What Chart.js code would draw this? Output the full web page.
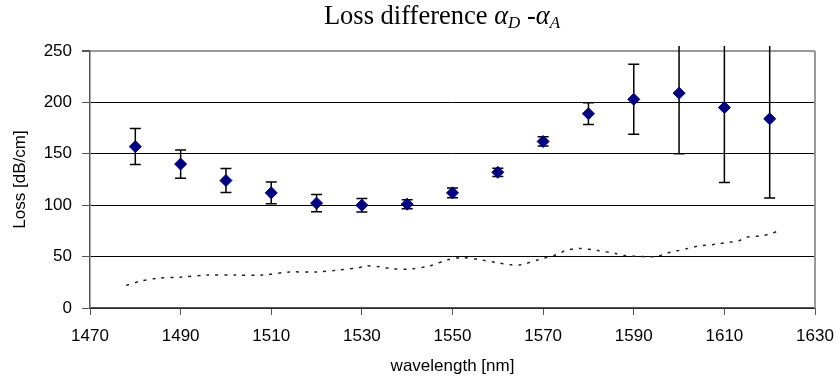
<!DOCTYPE html>
<html>
<head>
<meta charset="utf-8">
<script src="https://cdn.jsdelivr.net/npm/chart.js@4/dist/chart.umd.min.js"></script>
<style>
  html, body { margin: 0; padding: 0; background: #ffffff; }
  #wrap { width: 840px; height: 385px; position: relative; }
</style>
</head>
<body>
<div id="wrap"><canvas id="lossChart"></canvas></div>
<script>
// === DATA ===
const wavelengths = [1480, 1490, 1500, 1510, 1520, 1530, 1540, 1550, 1560, 1570, 1580, 1590, 1600, 1610, 1620];
const lossValues  = [157, 140, 124, 112, 102, 100, 101, 112, 132, 162, 189, 203, 209, 195, 184];
const lossErrors  = [17.5, 13.7, 11.6, 10.6, 8.3, 6.6, 4.4, 4.7, 4, 4.5, 10.6, 34, 59, 73, 77];

const curveX = [1478, 1481, 1485, 1490, 1496, 1502, 1508, 1514, 1520, 1525, 1529, 1531, 1534, 1537, 1541,
                1545, 1549, 1552, 1556, 1560, 1563, 1565, 1569, 1573, 1575, 1578, 1582, 1586, 1588, 1592,
                1595, 1597, 1599, 1602, 1604, 1608, 1611, 1613, 1615, 1618, 1620, 1622];
const curveY = [22, 26, 29, 30, 32, 32, 32, 35, 35, 37, 39, 41, 40, 38, 38,
                41, 47, 49, 47, 44, 42, 42, 47, 52, 56, 58, 56, 53, 51, 50,
                50, 53, 55, 58, 60, 62, 64, 65, 69, 70, 72, 75];

const xTicks = [1470, 1490, 1510, 1530, 1550, 1570, 1590, 1610, 1630];
const yTicks = [0, 50, 100, 150, 200, 250];

const MARKER_COLOR = '#000080';
const SANS = '"Liberation Sans", Arial, sans-serif';
const SERIF = '"Liberation Serif", "Times New Roman", serif';

// === PLUGINS ===
const errorBarPlugin = {
    id: 'errorBars',
    beforeDatasetsDraw(chart) {
        const { ctx, chartArea, scales: { x, y } } = chart;
        ctx.save();
        ctx.beginPath();
        ctx.rect(chartArea.left, chartArea.top - 5, chartArea.right - chartArea.left, chartArea.bottom - chartArea.top + 5);
        ctx.clip();
        ctx.strokeStyle = '#000000';
        ctx.lineWidth = 1.5;
        wavelengths.forEach((wl, i) => {
            const px   = x.getPixelForValue(wl);
            const pTop = y.getPixelForValue(lossValues[i] + lossErrors[i]);
            const pBot = y.getPixelForValue(lossValues[i] - lossErrors[i]);
            ctx.beginPath();
            ctx.moveTo(px, pTop);
            ctx.lineTo(px, pBot);
            ctx.moveTo(px - 5.5, pTop);
            ctx.lineTo(px + 5.5, pTop);
            ctx.moveTo(px - 5.5, pBot);
            ctx.lineTo(px + 5.5, pBot);
            ctx.stroke();
        });
        ctx.restore();
    },
    afterDraw(chart) {
        const { ctx, chartArea } = chart;
        ctx.save();
        ctx.strokeStyle = '#999999';
        ctx.lineWidth = 2;
        ctx.beginPath();
        ctx.moveTo(chartArea.right, chartArea.top);
        ctx.lineTo(chartArea.right, chartArea.bottom);
        ctx.stroke();
        ctx.restore();
    },
};

const titlePlugin = {
    id: 'mathTitle',
    afterDraw(chart) {
        const { ctx } = chart;
        const size = 26.5;
        const sub  = 17;
        const parts = [
            { text: 'Loss difference ', font: `${size}px ${SERIF}`, dy: 0 },
            { text: 'α', font: `italic ${size}px ${SERIF}`, dy: 0 },
            { text: 'D', font: `italic ${sub}px ${SERIF}`, dy: 4 },
            { text: ' -', font: `${size}px ${SERIF}`, dy: 0 },
            { text: 'α', font: `italic ${size}px ${SERIF}`, dy: 0 },
            { text: 'A', font: `italic ${sub}px ${SERIF}`, dy: 4 },
        ];
        ctx.save();
        ctx.fillStyle = '#000000';
        ctx.textBaseline = 'alphabetic';
        let total = 0;
        parts.forEach(p => { ctx.font = p.font; p.w = ctx.measureText(p.text).width; total += p.w; });
        let cx = 442 - total / 2;
        parts.forEach(p => {
            ctx.font = p.font;
            ctx.fillText(p.text, cx, 24 + p.dy);
            cx += p.w;
        });
        ctx.restore();
    },
};

// === CHART ===
new Chart(document.getElementById('lossChart').getContext('2d'), {
    type: 'scatter',
    data: {
        datasets: [
            {
                label:           'curve',
                data:            curveX.map((v, i) => ({ x: v, y: curveY[i] })),
                showLine:        true,
                borderColor:     '#222222',
                borderWidth:     1.5,
                borderDash:      [3, 6],
                pointRadius:     0,
                tension:         0.3,
                order:           2,
            },
            {
                label:           'Loss',
                data:            wavelengths.map((v, i) => ({ x: v, y: lossValues[i] })),
                pointStyle:      'rectRot',
                pointRadius:     6,
                backgroundColor: MARKER_COLOR,
                borderColor:     MARKER_COLOR,
                borderWidth:     1,
                order:           1,
            },
        ],
    },
    options: {
        responsive: true,
        maintainAspectRatio: false,
        animation: false,
        layout: { padding: { top: 51, right: 25, left: 0, bottom: 0 } },
        plugins: {
            legend:  { display: false },
            tooltip: { enabled: false },
        },
        scales: {
            x: {
                type: 'linear',
                min:  1470,
                max:  1630,
                afterBuildTicks: scale => { scale.ticks = xTicks.map(v => ({ value: v })); },
                afterFit: scale => {
                    scale.height = 77;
                    scale.paddingLeft = 0;
                    scale.paddingRight = 0;
                },
                grid:   { drawOnChartArea: false, drawTicks: true, tickLength: 7, tickColor: '#555555' },
                border: { color: '#555555', width: 1.5 },
                ticks:  {
                    color: '#000000',
                    font: { family: SANS, size: 17 },
                    padding: 11,
                    maxRotation: 0,
                    callback: v => String(v),
                },
                title: {
                    display: true,
                    text:    'wavelength [nm]',
                    color:   '#000000',
                    font:    { family: SANS, size: 17 },
                    padding: { top: 4, bottom: 8 },
                },
            },
            y: {
                min: 0,
                max: 250,
                afterBuildTicks: scale => { scale.ticks = yTicks.map(v => ({ value: v })); },
                afterFit: scale => {
                    scale.width = 90;
                    scale.paddingTop = 0;
                    scale.paddingBottom = 0;
                },
                grid: {
                    color:     ctx => ctx.tick && ctx.tick.value === 250 ? '#999999' : '#000000',
                    lineWidth: ctx => ctx.tick && ctx.tick.value === 250 ? 2 : 1,
                    tickColor: '#555555',
                    tickLength: 8,
                },
                border: { color: '#555555', width: 1.5 },
                ticks:  {
                    color: '#000000',
                    font: { family: SANS, size: 17 },
                    padding: 10,
                    callback: v => String(v),
                },
                title: {
                    display: true,
                    text:    'Loss [dB/cm]',
                    color:   '#000000',
                    font:    { family: SANS, size: 17 },
                    padding: { top: 10, bottom: 0 },
                },
            },
        },
    },
    plugins: [errorBarPlugin, titlePlugin],
});
</script>
</body>
</html>
